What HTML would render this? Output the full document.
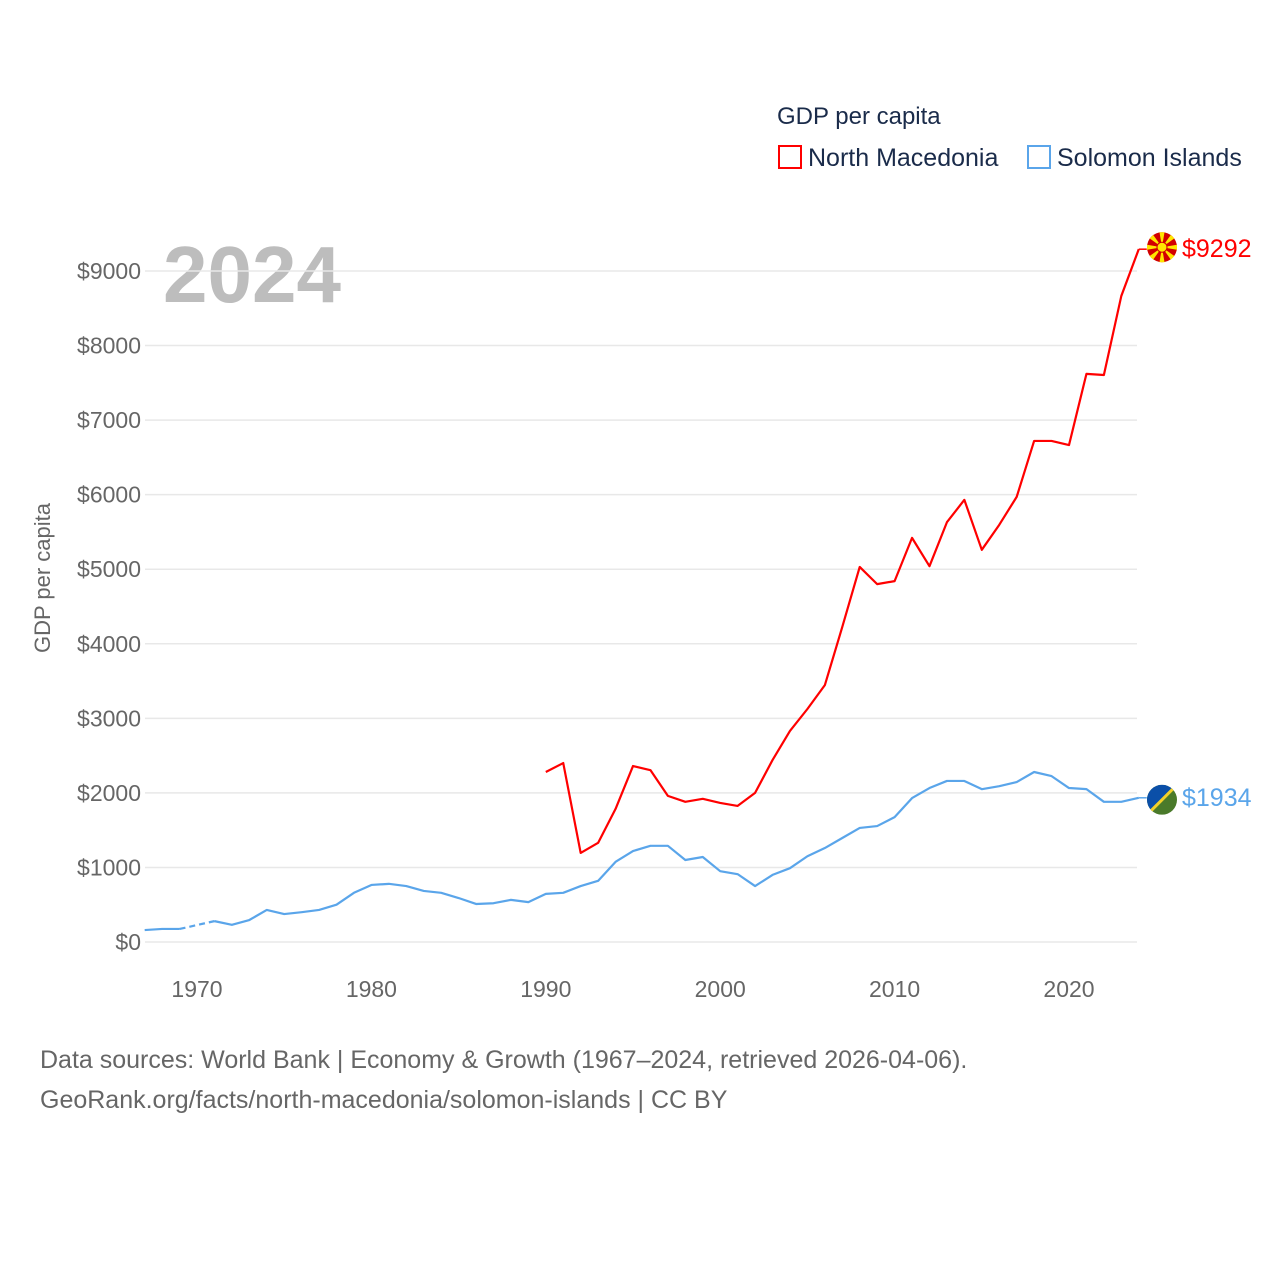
<!DOCTYPE html>
<html><head><meta charset="utf-8"><style>
body{margin:0;background:#fff;}
svg text{font-family:"Liberation Sans",sans-serif;}
</style></head><body>
<svg width="1280" height="1280" viewBox="0 0 1280 1280">
<g>
<text x="777" y="124" font-size="24" fill="#1a2b4a">GDP per capita</text>
<rect x="779" y="146" width="22" height="22" fill="none" stroke="#f00" stroke-width="2"/>
<text x="808" y="166" font-size="25" fill="#1a2b4a">North Macedonia</text>
<rect x="1028" y="146" width="22" height="22" fill="none" stroke="#5aa5ea" stroke-width="2"/>
<text x="1057" y="166" font-size="25" fill="#1a2b4a">Solomon Islands</text>
</g>
<text x="50" y="578" font-size="22" fill="#666" transform="rotate(-90 50 578)" text-anchor="middle">GDP per capita</text>
<text x="163" y="302" font-size="80" font-weight="bold" fill="#bdbdbd">2024</text>
<g id="grid"></g><g id="series"></g><g id="labels"></g>
<text x="40" y="1068" font-size="25" fill="#666">Data sources: World Bank | Economy &amp; Growth (1967–2024, retrieved 2026-04-06).</text>
<text x="40" y="1108" font-size="25" fill="#666">GeoRank.org/facts/north-macedonia/solomon-islands | CC BY</text>
</svg>
<script>
const yTicks=[0,1000,2000,3000,4000,5000,6000,7000,8000,9000];
const xTicks=[1970,1980,1990,2000,2010,2020];
const startYear=1967;
const solomon=[160,175,175,null,280,230,295,430,375,400,430,500,660,765,780,750,685,660,590,510,520,565,535,645,660,750,820,1075,1220,1290,1290,1100,1140,950,910,750,900,990,1150,1260,1395,1530,1555,1675,1930,2065,2160,2160,2050,2090,2145,2280,2225,2065,2050,1880,1880,1934];
const macStart=1990;
const macedonia=[2280,2400,1195,1330,1785,2360,2305,1960,1880,1920,1865,1825,2000,2440,2830,3125,3445,4225,5030,4800,4840,5420,5040,5630,5930,5260,5595,5970,6720,6720,6665,7620,7605,8665,9292];
const NS="http://www.w3.org/2000/svg";
const X=yr=>197+(yr-1970)*17.44;
const Y=v=>942-v*0.07456;
function mk(t,a,p){const e=document.createElementNS(NS,t);for(const k in a)e.setAttribute(k,a[k]);p.appendChild(e);return e;}
const grid=document.getElementById('grid'),ser=document.getElementById('series'),lab=document.getElementById('labels');
yTicks.forEach(v=>{
 const l=mk('line',{x1:145,x2:1137,y1:Y(v),y2:Y(v),stroke:'#e8e8e8','stroke-width':1.5},grid);
 
 
 const t=mk('text',{x:141,y:Y(v)+8,'text-anchor':'end','font-size':23,fill:'#666'},grid);
 t.textContent='$'+v;
 
 
});
xTicks.forEach(yr=>{
 const t=mk('text',{x:X(yr),y:997,'text-anchor':'middle','font-size':23,fill:'#666'},grid);
 t.textContent=yr;
 
 
});
function draw(arr,start,color,name){
 let segs=[],cur=[],gaps=[];let last=null;
 arr.forEach((v,i)=>{const yr=start+i;
  if(v==null){if(cur.length)segs.push(cur);cur=[];return;}
  const p=[X(yr),Y(v)];
  if(!cur.length&&last&&last.i<i-1)gaps.push([last.p,p]);
  cur.push(p);last={i,p};});
 if(cur.length)segs.push(cur);
 segs.forEach(s=>{const pl=mk('polyline',{points:s.map(p=>p.join(',')).join(' '),fill:'none',stroke:color,'stroke-width':2.2,'stroke-linejoin':'round'},ser);
  
  });
 gaps.forEach(g=>{const d=mk('line',{x1:g[0][0],y1:g[0][1],x2:g[1][0],y2:g[1][1],stroke:color,'stroke-width':2.2,'stroke-dasharray':'6,4'},ser);
  
  });
 const lv=arr[arr.length-1],ly=Y(lv),lx=X(start+arr.length-1);
 const c=mk('line',{x1:lx,y1:ly,x2:lx+8,y2:ly,stroke:color,'stroke-width':1.5},ser);
 
 
 const t=mk('text',{x:1182,y:ly+8,'font-size':25,fill:color},lab);
 t.textContent='$'+lv;
 
 
 return ly;
}
const my=draw(macedonia,macStart,'#f00','north-macedonia');
const sy=draw(solomon,startYear,'#5aa5ea','solomon-islands');
const fm=mk('g',{transform:`translate(1162,${my-2})`},lab);


mk('circle',{r:15,fill:'#d20000'},fm);
for(let a=0;a<8;a++){mk('path',{d:'M0,0 L-2.5,-15 L2.5,-15 Z',fill:'#ffe600',transform:`rotate(${a*45})`},fm);}
mk('circle',{r:5,fill:'#ffe600',stroke:'#d20000','stroke-width':1},fm);
const fs=mk('g',{transform:`translate(1162,${sy+2})`},lab);


mk('clipPath',{id:'sc'},fs).appendChild(document.createElementNS(NS,'circle')).setAttribute('r',15);
const gg=mk('g',{'clip-path':'url(#sc)'},fs);
mk('rect',{x:-15,y:-15,width:30,height:30,fill:'#4a7a2a'},gg);
mk('path',{d:'M-15,-15 L15,-15 L-15,15 Z',fill:'#0b4fa8'},gg);
mk('line',{x1:-15,y1:15,x2:15,y2:-15,stroke:'#f2d12a','stroke-width':3},gg);
</script>
</body></html>
